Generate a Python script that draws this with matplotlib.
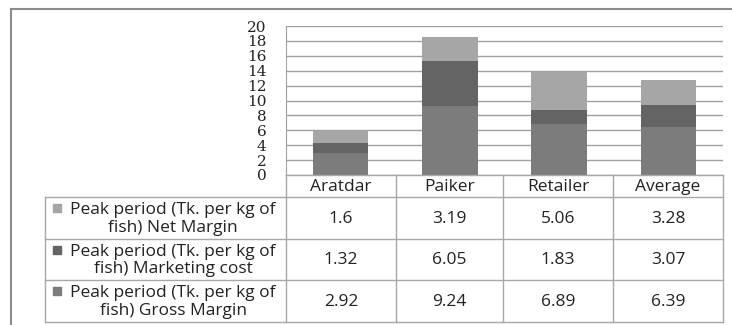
import numpy as np
import matplotlib
matplotlib.use('Agg')
import matplotlib.pyplot as plt
from matplotlib.patches import Rectangle
from matplotlib.lines import Line2D

# Peak period margins (Tk. per kg of fish)
categories = ['Aratdar', 'Paiker', 'Retailer', 'Average']
gross_margin = [2.92, 9.24, 6.89, 6.39]
marketing_cost = [1.32, 6.05, 1.83, 3.07]
net_margin = [1.6, 3.19, 5.06, 3.28]
series_names = ['Peak period (Tk. per kg of\nfish) Net Margin',
                'Peak period (Tk. per kg of\nfish) Marketing cost',
                'Peak period (Tk. per kg of\nfish) Gross Margin']
colors = {'net': '#a6a6a6', 'mkt': '#646464', 'gross': '#7c7c7c'}

W, H = 732, 325
fig = plt.figure(figsize=(W / 100, H / 100), dpi=100)

def fx(px):
    return px / W

def fy(py):
    return 1 - py / H

# chart area
x0, x1, ytop, ybot = 286, 723, 26, 175
ax = fig.add_axes([fx(x0), fy(ybot), fx(x1 - x0), (ybot - ytop) / H])
x = np.arange(len(categories))
bw = 0.51
ax.bar(x, gross_margin, bw, color=colors['gross'], zorder=3)
ax.bar(x, marketing_cost, bw, bottom=gross_margin, color=colors['mkt'], zorder=3)
bottom2 = np.array(gross_margin) + np.array(marketing_cost)
ax.bar(x, net_margin, bw, bottom=bottom2, color=colors['net'], zorder=3)
ax.set_xlim(-0.5, len(categories) - 0.5)
ax.set_ylim(0, 20)
ax.set_yticks(range(0, 21, 2))
ax.set_yticklabels([str(v) for v in range(0, 21, 2)], family='DejaVu Serif',
                   fontsize=11, color='#222222')
ax.tick_params(axis='y', length=0, pad=14)
ax.set_xticks([])
ax.grid(axis='y', color='#a0a0a0', linewidth=1, zorder=0)
for s in ['top', 'right', 'bottom']:
    ax.spines[s].set_visible(False)
ax.spines['left'].set_color('#a0a0a0')

# data table underneath
tax = fig.add_axes([0, 0, 1, 1])
tax.set_xlim(0, W)
tax.set_ylim(H, 0)
tax.axis('off')
lc = '#a8a8a8'
col_edges = [286, 396, 503, 613, 723]
row_edges = [175, 197, 239, 280, 322]
label_x0 = 45

def hline(xa, xb, y):
    tax.add_line(Line2D([xa, xb], [y, y], color=lc, lw=1))

def vline(xx, ya, yb):
    tax.add_line(Line2D([xx, xx], [ya, yb], color=lc, lw=1))

hline(col_edges[0], col_edges[-1], row_edges[0])
for y in row_edges[1:]:
    hline(label_x0, col_edges[-1], y)
for xx in col_edges:
    vline(xx, row_edges[0], row_edges[-1])
vline(label_x0, row_edges[1], row_edges[-1])

tfont = dict(family='Open Sans', fontsize=12.5, color='#222222')
for i, c in enumerate(categories):
    cx = (col_edges[i] + col_edges[i + 1]) / 2
    tax.text(cx, (row_edges[0] + row_edges[1]) / 2 + 1, c,
             ha='center', va='center', **tfont)

rows = [(net_margin, colors['net']), (marketing_cost, colors['mkt']),
        (gross_margin, colors['gross'])]
for r, ((vals, col), name) in enumerate(zip(rows, series_names)):
    ya, yb = row_edges[r + 1], row_edges[r + 2]
    cy = (ya + yb) / 2
    tax.text(173, cy + 1, name, ha='center', va='center', linespacing=1.12,
             **tfont)
    tax.add_patch(Rectangle((53, ya + 7), 8, 8, color=col))
    for i, v in enumerate(vals):
        cx = (col_edges[i] + col_edges[i + 1]) / 2
        tax.text(cx, cy + 1, f'{v:g}', ha='center', va='center', **tfont)

# outer frame
tax.add_line(Line2D([11, W], [9, 9], color='#8c8c8c', lw=1.5))
tax.add_line(Line2D([11, 11], [9, H], color='#8c8c8c', lw=1.5))

fig.savefig('out.png', dpi=100)
